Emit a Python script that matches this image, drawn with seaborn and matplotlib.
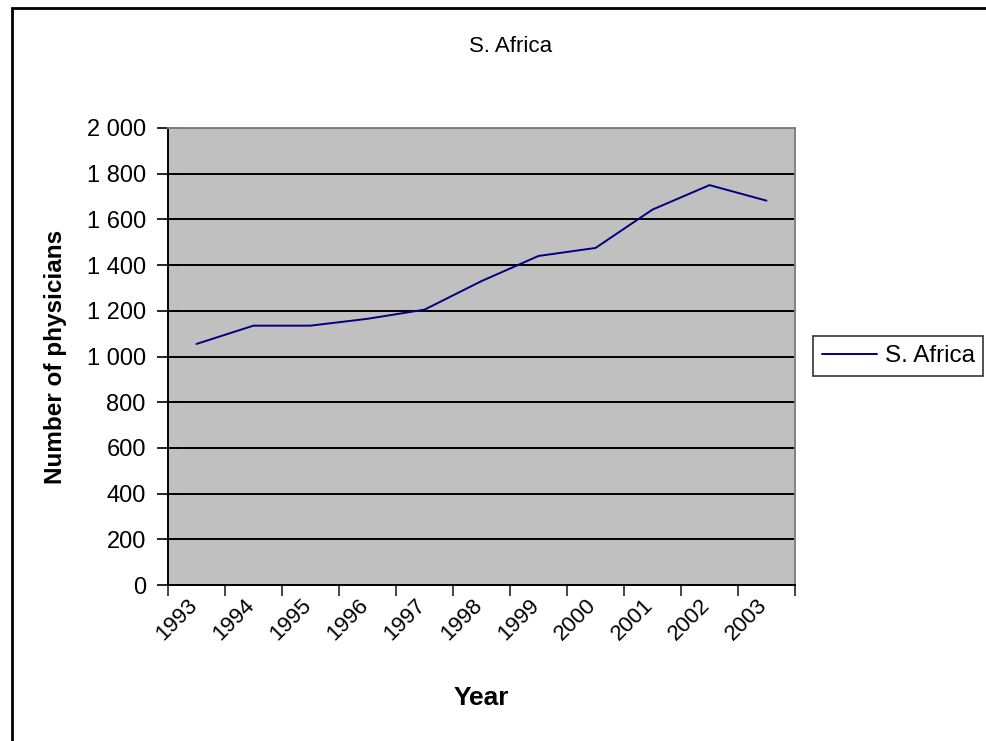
import matplotlib
matplotlib.use("Agg")
import matplotlib.pyplot as plt
import matplotlib.transforms as mtransforms
from matplotlib.patches import Rectangle
from matplotlib.ticker import FuncFormatter, FixedLocator
import seaborn as sns
import pandas as pd

# Physician counts per year
years = ["1993", "1994", "1995", "1996", "1997", "1998",
         "1999", "2000", "2001", "2002", "2003"]
physicians = [1055, 1135, 1135, 1165, 1205, 1330, 1440, 1475, 1643, 1750, 1682]
series_name = "S. Africa"

df = pd.DataFrame({"Year": years, "Physicians": physicians})

sns.set_style("white")
plt.rcParams["font.family"] = ["Liberation Sans", "DejaVu Sans"]
plt.rcParams["text.color"] = "black"
plt.rcParams["axes.labelcolor"] = "black"

W, H = 987, 741
fig = plt.figure(figsize=(W / 100, H / 100), dpi=100)
ax = fig.add_axes([168 / W, 1 - 585 / H, (795 - 168) / W, (585 - 128) / H])

ax.set_facecolor("#C0C0C0")
sns.lineplot(data=df, x="Year", y="Physicians", ax=ax, color="#000080",
             linewidth=1.4, label=series_name, sort=False)

ax.set_xlim(-0.5, len(years) - 0.5)
ax.set_ylim(0, 2000)

# y axis: gridlines every 200 with space thousands separator
ax.yaxis.set_major_locator(FixedLocator(range(0, 2001, 200)))
ax.yaxis.set_major_formatter(FuncFormatter(lambda v, p: f"{int(v):,}".replace(",", " ")))
ax.grid(axis="y", color="black", linewidth=1.4)
ax.set_axisbelow(True)
ax.tick_params(axis="y", direction="inout", length=16, width=1.2, pad=8,
               labelsize=17, colors="black", left=True)

# x axis: tick marks on category boundaries, labels on category centres
ax.xaxis.set_major_locator(FixedLocator([i - 0.5 for i in range(len(years) + 1)]))
ax.xaxis.set_major_formatter(FuncFormatter(lambda v, p: ""))
ax.set_xticks(range(len(years)), years, minor=True)
ax.tick_params(axis="x", which="major", direction="out", length=8, width=1.2,
               bottom=True)
ax.tick_params(axis="x", which="minor", length=0, pad=7, labelsize=16,
               colors="black")
shift = mtransforms.ScaledTranslation(-10 / 100, 0, fig.dpi_scale_trans)
for lbl in ax.get_xticklabels(minor=True):
    lbl.set_rotation(45)
    lbl.set_ha("right")
    lbl.set_va("top")
    lbl.set_rotation_mode("anchor")
    lbl.set_transform(lbl.get_transform() + shift)

for side in ("left", "bottom"):
    ax.spines[side].set_color("black")
    ax.spines[side].set_linewidth(1.4)
for side in ("top", "right"):
    ax.spines[side].set_color("#808080")
    ax.spines[side].set_linewidth(1.4)

ax.set_xlabel("Year", fontsize=19, fontweight="bold", labelpad=30)
ax.set_ylabel("Number of physicians", fontsize=17.5, fontweight="bold", labelpad=14)

fig.text(511 / W, 1 - 46 / H, series_name, ha="center", va="center", fontsize=16)

leg = ax.legend(loc="center left", bbox_to_anchor=(813 / W, 1 - 356 / H),
                bbox_transform=fig.transFigure, frameon=True, fancybox=False,
                fontsize=17.5, handlelength=2.3, handletextpad=0.3,
                borderpad=0.35, borderaxespad=0)
leg.get_frame().set_edgecolor("black")
leg.get_frame().set_linewidth(1.2)

# chart area border
fig.patches.append(Rectangle((12 / W, -0.05), 1.1, 1 - 8 / H + 0.05,
                             transform=fig.transFigure, fill=False,
                             edgecolor="black", linewidth=2.0))

fig.savefig("out.png", dpi=100, facecolor="white")
